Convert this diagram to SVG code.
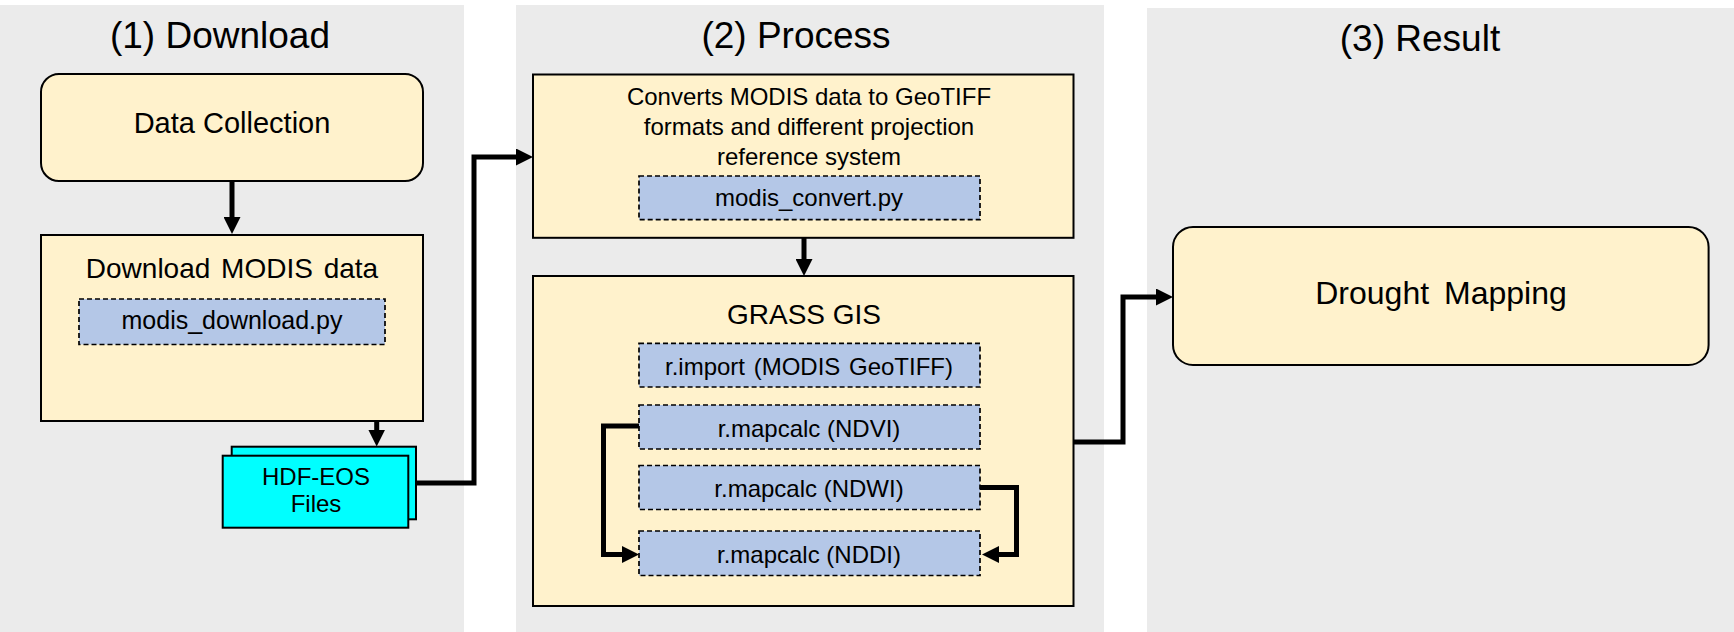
<svg xmlns="http://www.w3.org/2000/svg" width="1734" height="632" viewBox="0 0 1734 632">
<defs>
<style>
.panel{fill:#ebebeb;stroke:none}
.box{fill:#fff2cc;stroke:#000;stroke-width:2}
.code{fill:#b4c7e7;stroke:#000;stroke-width:1.7;stroke-dasharray:5 3}
.file{fill:#00ffff;stroke:#000;stroke-width:2}
text{font-family:"Liberation Sans",Arial,sans-serif;fill:#000;text-anchor:middle}
.title{font-size:37px}
.lbl{font-size:28px}
.sm{font-size:24px}
.conn{fill:none;stroke:#000;stroke-width:5;stroke-linejoin:miter}
</style>
<marker id="arr" markerUnits="userSpaceOnUse" markerWidth="17" markerHeight="17" viewBox="0 0 17 17" refX="5" refY="8.5" orient="auto">
<path d="M0,0 L17,8.5 L0,17 z" fill="#000"/>
</marker>
</defs>
<rect width="1734" height="632" fill="#fff"/>
<g id="panels">
<rect class="panel" x="0" y="5" width="464" height="627"/>
<rect class="panel" x="516" y="5" width="588" height="627"/>
<rect class="panel" x="1147" y="8" width="587" height="624"/>
<text class="title" x="220" y="48">(1) Download</text>
<text class="title" x="796" y="48">(2) Process</text>
<text class="title" x="1420" y="51">(3) Result</text>
</g>
<g id="data-collection">
<rect class="box" x="41" y="74" width="382" height="107" rx="18"/>
<text class="lbl" x="232" y="133" style="font-size:29px">Data Collection</text>
</g>
<g id="download-modis">
<rect class="box" x="41" y="235" width="382" height="186"/>
<text class="lbl" x="232" y="278" style="word-spacing:3px">Download MODIS data</text>
<rect class="code" x="79" y="299" width="306" height="45.5"/>
<text class="sm" x="232" y="329" style="font-size:25px">modis_download.py</text>
</g>
<g id="hdf-eos">
<rect class="file" x="231.7" y="446.7" width="184.3" height="72.6"/>
<rect class="file" x="222.7" y="455.7" width="185.6" height="72"/>
<text class="sm" x="316" y="485">HDF-EOS</text>
<text class="sm" x="316" y="512">Files</text>
</g>
<g id="convert">
<rect class="box" x="533" y="74.5" width="540.5" height="163.3"/>
<text class="sm" x="809" y="105">Converts MODIS data to GeoTIFF</text>
<text class="sm" x="809" y="135">formats and different projection</text>
<text class="sm" x="809" y="165">reference system</text>
<rect class="code" x="639" y="176" width="341" height="43.7"/>
<text class="sm" x="809" y="206">modis_convert.py</text>
</g>
<g id="grass">
<rect class="box" x="533" y="276" width="540.5" height="330"/>
<text class="lbl" x="804" y="324">GRASS GIS</text>
</g>
<g id="r-import">
<rect class="code" x="639" y="343.4" width="341" height="43.6"/>
<text class="sm" x="809" y="375" style="word-spacing:2px">r.import (MODIS GeoTIFF)</text>
</g>
<g id="ndvi">
<rect class="code" x="639" y="405" width="341" height="44"/>
<text class="sm" x="809" y="437">r.mapcalc (NDVI)</text>
</g>
<g id="ndwi">
<rect class="code" x="639" y="465.5" width="341" height="44"/>
<text class="sm" x="809" y="497">r.mapcalc (NDWI)</text>
</g>
<g id="nddi">
<rect class="code" x="639" y="531" width="341" height="44.5"/>
<text class="sm" x="809" y="563">r.mapcalc (NDDI)</text>
</g>
<g id="drought">
<rect class="box" x="1173" y="227" width="535.6" height="138" rx="20"/>
<text class="lbl" x="1441" y="304" style="font-size:32px;word-spacing:6px">Drought Mapping</text>
</g>
<g id="connectors">
<path class="conn" d="M232,181 V222" marker-end="url(#arr)"/>
<path class="conn" d="M376.7,421 V434.5" marker-end="url(#arr)"/>
<path class="conn" d="M416,483 H474 V157 H521" marker-end="url(#arr)"/>
<path class="conn" d="M804,238 V264" marker-end="url(#arr)"/>
<path class="conn" d="M639,426 H603.5 V554.5 H627" marker-end="url(#arr)"/>
<path class="conn" d="M980,487.5 H1016.5 V554.5 H994" marker-end="url(#arr)"/>
<path class="conn" d="M1073.5,442 H1123 V297 H1161" marker-end="url(#arr)"/>
</g>
</svg>
